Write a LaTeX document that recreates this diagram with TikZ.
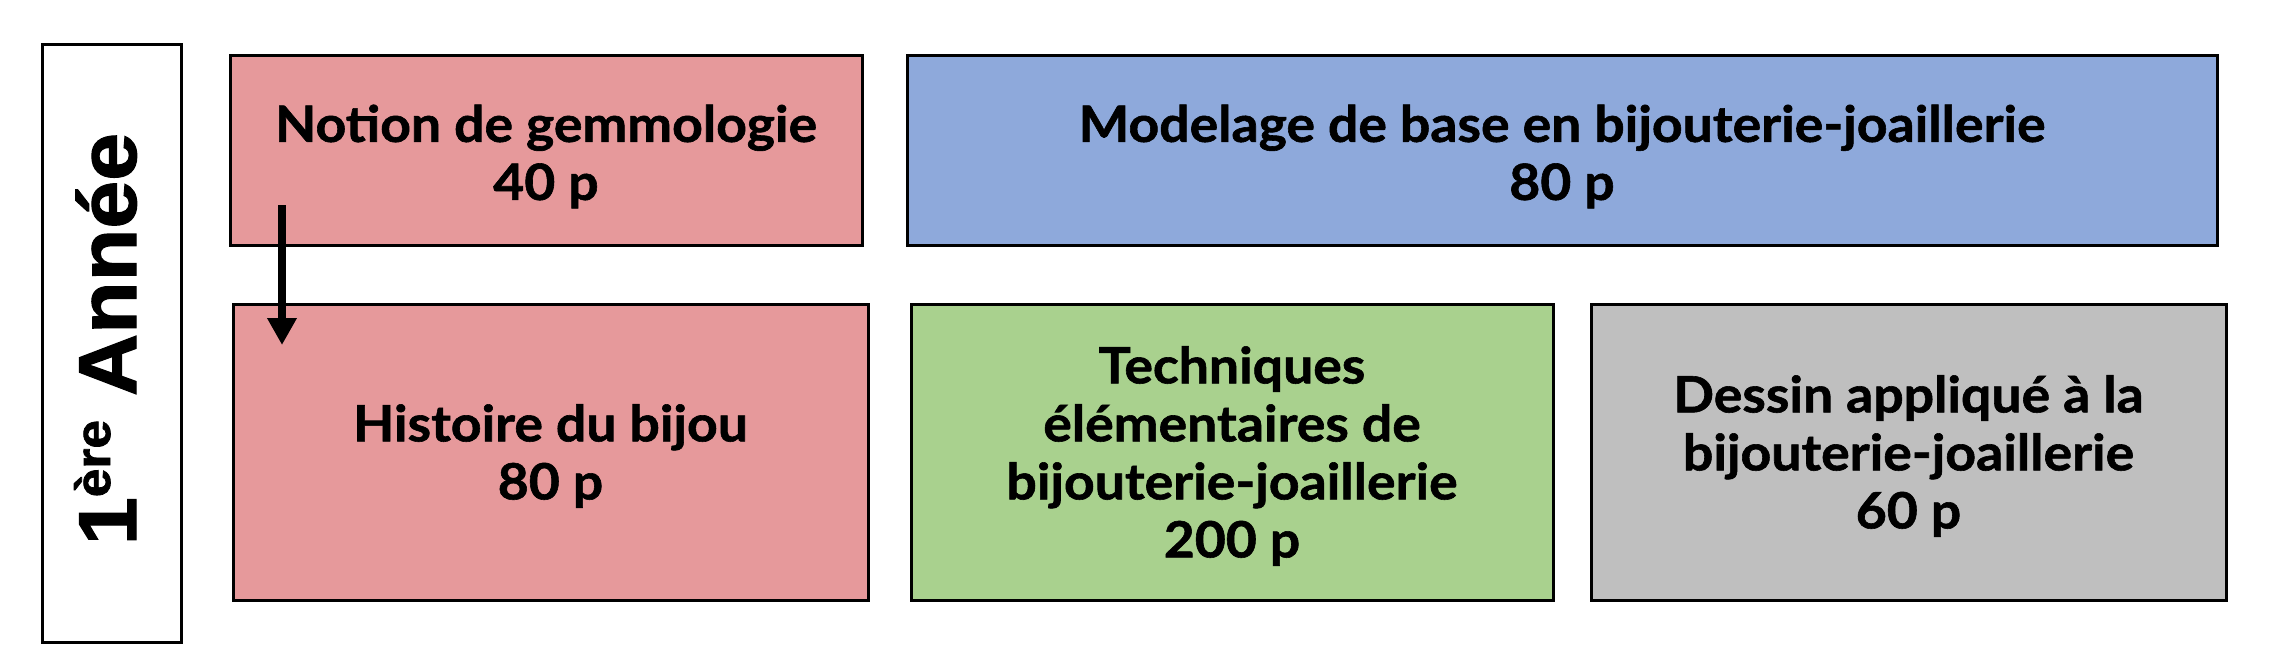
\documentclass[tikz,border=0pt]{standalone}
\usepackage{fontspec}
\newfontfamily\boxfont{Lato}[BoldFeatures={FakeStretch=1.07,FakeBold=1.2}]
\newfontfamily\yearfont{Liberation Sans}[BoldFeatures={FakeStretch=1.05,FakeBold=1.5}]
\usetikzlibrary{arrows.meta}
\definecolor{pinkc}{HTML}{E6999B}
\definecolor{bluec}{HTML}{8EA9DB}
\definecolor{greenc}{HTML}{A9D18E}
\definecolor{grayc}{HTML}{BFBFBF}
\begin{document}
\begin{tikzpicture}[x=1pt,y=-1pt,
  box/.style={draw=black, line width=3pt, rectangle, inner sep=0pt},
  lbl/.style={align=center, font=\boxfont\bfseries\fontsize{50}{58}\selectfont, inner sep=0pt},
  arr/.style={line width=8pt, -{Triangle[width=28pt,length=27pt]}}]
\useasboundingbox (0,0) rectangle (2292,666);
\node[box, fill=white, minimum width=139pt, minimum height=597pt] (year) at (111.5,343.5) {};
\node[box, fill=pinkc, minimum width=632pt, minimum height=189pt] (notion) at (546,150.5) {};
\node[box, fill=bluec, minimum width=1310pt, minimum height=189pt] (modelage) at (1562,150.5) {};
\node[box, fill=pinkc, minimum width=635pt, minimum height=296pt] (histoire) at (550.5,452) {};
\node[box, fill=greenc, minimum width=642pt, minimum height=296pt] (techniques) at (1232,452) {};
\node[box, fill=grayc, minimum width=635pt, minimum height=296pt] (dessin) at (1908.5,452) {};
\node[rotate=90, anchor=base, inner sep=0pt, font=\yearfont\bfseries\fontsize{82}{82}\selectfont] (yeartxt) at (136,339) {1\raisebox{26pt}{\fontsize{49}{49}\selectfont ère} Année};
\node[lbl] (t1) at ([yshift=-6pt]notion.center) {Notion de gemmologie\\40 p};
\node[lbl] (t2) at ([yshift=-6pt]modelage.center) {Modelage de base en bijouterie-joaillerie\\80 p};
\node[lbl] (t3) at ([yshift=-4pt]histoire.center) {Histoire du bijou\\80 p};
\node[lbl] (t4) at ([yshift=-4pt]techniques.center) {Techniques\\élémentaires de\\bijouterie-joaillerie\\200 p};
\node[lbl] (t5) at ([yshift=-4pt]dessin.center) {Dessin appliqué à la\\bijouterie-joaillerie\\60 p};
\coordinate (a1) at (282,205);
\coordinate (a2) at (282,345);
\draw[arr] (a1) -- (a2);
\end{tikzpicture}
\end{document}
